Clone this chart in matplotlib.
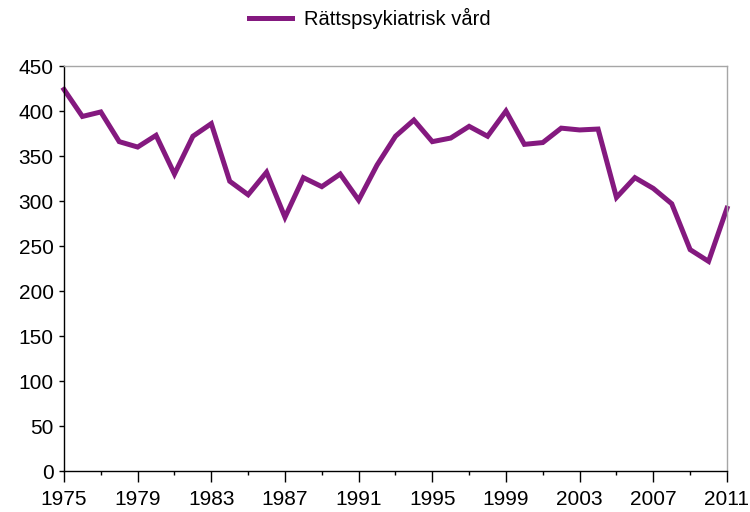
import numpy as np
import matplotlib.pyplot as plt
from matplotlib.ticker import FixedLocator, MultipleLocator

plt.rcParams['font.family'] = ['Liberation Sans', 'DejaVu Sans']

years = list(range(1975, 2012))
# values
vard = [424, 394, 399, 366, 360, 373, 330, 372, 386, 322, 307, 332, 282,
        326, 316, 330, 301, 340, 372, 390, 366, 370, 383, 372, 400, 363,
        365, 381, 379, 380, 304, 326, 314, 297, 246, 233, 292]
series_name = 'Rättspsykiatrisk vård'
purple = '#84197F'

fig = plt.figure(figsize=(7.5, 5.12), dpi=100)
ax = fig.add_axes([0.0853, 0.080, 0.8840, 0.791])

ax.plot(years, vard, color=purple, lw=3.6, solid_joinstyle='miter', label=series_name,
        clip_on=False)

ax.set_xlim(1975, 2011)
ax.set_ylim(0, 450)
ax.xaxis.set_major_locator(FixedLocator(range(1975, 2012, 4)))
ax.xaxis.set_minor_locator(FixedLocator(range(1977, 2012, 4)))
ax.yaxis.set_major_locator(MultipleLocator(50))

ax.tick_params(axis='x', which='major', direction='out', length=8, width=1,
               labelsize=15, pad=6, colors='black')
ax.tick_params(axis='x', which='minor', direction='out', length=3, width=1)
ax.tick_params(axis='y', direction='out', length=3.5, width=1, labelsize=15, pad=4)

for side in ('top', 'right'):
    ax.spines[side].set_color('#A6A6A6')
    ax.spines[side].set_linewidth(1)
for side in ('left', 'bottom'):
    ax.spines[side].set_color('black')
    ax.spines[side].set_linewidth(1)

leg = fig.legend(loc='center', bbox_to_anchor=(0.493, 0.964), frameon=False,
                 fontsize=14.5, handlelength=2.1, handletextpad=0.6)

fig.savefig('out.png', dpi=100)
